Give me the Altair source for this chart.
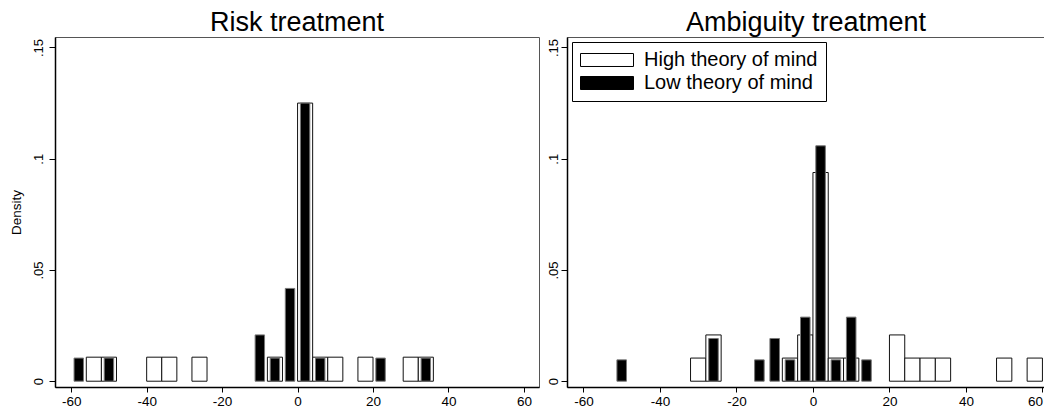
import altair as alt
import pandas as pd

FONT = "Liberation Sans"
bin_width = 4
groups = ["High theory of mind", "Low theory of mind"]

# Risk treatment: bin start (left edge) and density
risk_high_start = [-56, -52, -40, -36, -28, -8, 0, 4, 8, 16, 28, 32]
risk_high_density = [0.0108, 0.0108, 0.0108, 0.0108, 0.0108, 0.0108, 0.125, 0.0108, 0.0108, 0.0108, 0.0108, 0.0108]
risk_low_start = [-60, -52, -12, -8, -4, 0, 4, 20, 32]
risk_low_density = [0.0104, 0.0104, 0.0208, 0.0104, 0.0417, 0.125, 0.0104, 0.0104, 0.0104]

# Ambiguity treatment
amb_high_start = [-32, -28, -8, -4, 0, 4, 8, 20, 24, 28, 32, 48, 56]
amb_high_density = [0.0104, 0.0208, 0.0104, 0.0208, 0.0938, 0.0104, 0.0104, 0.0208, 0.0104, 0.0104, 0.0104, 0.0104, 0.0104]
amb_low_start = [-52, -28, -16, -12, -8, -4, 0, 4, 8, 12]
amb_low_density = [0.0096, 0.0192, 0.0096, 0.0192, 0.0096, 0.0288, 0.1058, 0.0096, 0.0288, 0.0096]

x_ticks = [-60, -40, -20, 0, 20, 40, 60]
y_ticks = [0, 0.05, 0.1, 0.15]
y_domain = [-0.0026, 0.1547]
risk_x_domain = [-64.3, 64.0]
amb_x_domain = [-64.3, 60.67]


def make_df(starts, dens, group):
    return pd.DataFrame({"start": starts, "density": dens, "group": group})


def panel(high_df, low_df, x_domain, width, title, y_title, show_legend, label_pad):
    xs = alt.Scale(domain=x_domain, nice=False, zero=False)
    ys = alt.Scale(domain=y_domain, nice=False, zero=False)
    xaxis = alt.Axis(values=x_ticks, title=None, grid=False, tickSize=5,
                     labelPadding=2, labelFontSize=13.5, domainWidth=1.5,
                     labelFlush=8, labelExpr="datum.value + ''")
    yaxis_kw = dict(values=y_ticks, grid=False, tickSize=6, labelPadding=label_pad,
                    labelFontSize=13, labelAngle=270, labelAlign="center",
                    labelBaseline="alphabetic", domainWidth=1.5,
                    labelExpr="datum.value == 0 ? '0' : slice(format(datum.value, '.2~f'), 1)")
    if y_title:
        yaxis = alt.Axis(title=y_title, titleFontSize=13.5, titleFontWeight="normal",
                         titlePadding=9, **yaxis_kw)
    else:
        yaxis = alt.Axis(title=None, **yaxis_kw)
    fill_scale = alt.Scale(domain=groups, range=["white", "black"])
    if show_legend:
        legend = alt.Legend(title=None, orient="top-left", offset=5, padding=8,
                            strokeColor="black", fillColor="white",
                            symbolType="M-1,-0.245H1V0.245H-1Z", symbolSize=2809,
                            symbolStrokeColor="black", symbolStrokeWidth=1,
                            labelFontSize=20, labelFont=FONT, labelColor="black",
                            labelOffset=10, labelLimit=400, rowPadding=3, clipHeight=20)
        fill = alt.Fill("group:N", scale=fill_scale, legend=legend)
    else:
        fill = alt.Fill("group:N", scale=fill_scale, legend=None)

    hollow = alt.Chart(high_df).transform_calculate(
        x1=f"datum.start + {bin_width}"
    ).mark_rect(stroke="#111", strokeWidth=1).encode(
        x=alt.X("start:Q", scale=xs, axis=xaxis),
        x2="x1:Q",
        y=alt.Y("density:Q", scale=ys, axis=yaxis),
        y2=alt.datum(0),
        fill=fill,
    )
    solid = alt.Chart(low_df).transform_calculate(
        x0=f"datum.start + {bin_width} * 0.1875",
        x1=f"datum.start + {bin_width} * 0.8125",
    ).mark_rect(stroke="#777", strokeWidth=1).encode(
        x=alt.X("x0:Q", scale=xs, axis=xaxis),
        x2="x1:Q",
        y=alt.Y("density:Q", scale=ys, axis=yaxis),
        y2=alt.datum(0),
        fill=fill,
    )
    return alt.layer(hollow, solid).properties(
        width=width, height=350,
        title=alt.TitleParams(title, fontSize=27, font=FONT, fontWeight="normal",
                              color="black", anchor="middle", offset=0),
    )


left = panel(make_df(risk_high_start, risk_high_density, groups[0]),
             make_df(risk_low_start, risk_low_density, groups[1]),
             risk_x_domain, 484, "Risk treatment", "Density", False, 7)
right = panel(make_df(amb_high_start, amb_high_density, groups[0]),
              make_df(amb_low_start, amb_low_density, groups[1]),
              amb_x_domain, 478, "Ambiguity treatment", None, True, 4)

chart = alt.hconcat(left, right, spacing=6).resolve_scale(
    fill="independent", x="independent"
).resolve_legend(fill="independent").properties(
    padding={"left": 0, "top": 0, "right": -2, "bottom": 0}, background="white"
).configure_axis(
    labelFont=FONT, titleFont=FONT, labelColor="black", titleColor="black",
    domainColor="black", tickColor="black", tickWidth=1,
).configure_view(stroke="#555", strokeWidth=1)

chart.save("out.html", embed_options={"renderer": "svg", "actions": False})
